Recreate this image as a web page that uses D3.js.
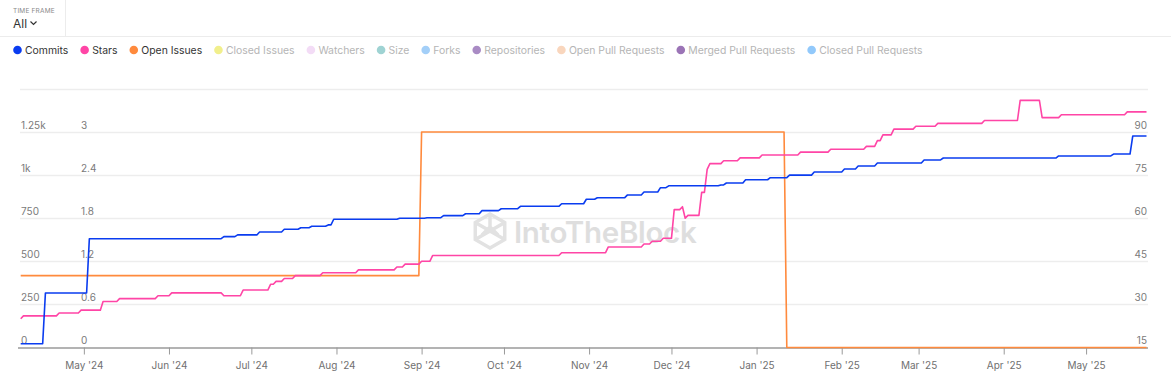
<!DOCTYPE html>
<html>
<head>
<meta charset="utf-8">
<script src="https://cdn.jsdelivr.net/npm/d3@7"></script>
<style>
  body { margin: 0; background: #fff; font-family: Inter, "Noto Sans", sans-serif; }
</style>
</head>
<body>
<div id="chart"></div>
<script>
// --- data ---
const commitDates = ["2024-04-08","2024-04-17","2024-05-03","2024-06-21","2024-06-26","2024-07-04","2024-07-13","2024-07-19","2024-07-23","2024-07-29","2024-07-31","2024-08-24","2024-09-03","2024-09-09","2024-09-17","2024-09-23","2024-09-30","2024-10-07","2024-10-22","2024-10-31","2024-11-04","2024-11-15","2024-11-21","2024-11-27","2024-11-30","2024-12-19","2024-12-21","2024-12-28","2025-01-06","2025-01-13","2025-01-22","2025-02-02","2025-02-07","2025-02-14","2025-03-03","2025-03-10","2025-04-21","2025-05-11","2025-05-18"];
const commitValues = [22,316,631,643,653,670,686,695,703,711,744,750,753,765,776,794,805,819,834,860,869,885,902,927,938,943,954,973,985,1000,1018,1035,1053,1070,1088,1099,1111,1122,1227];

const starDates = ["2024-04-08","2024-04-09","2024-04-22","2024-04-30","2024-05-08","2024-05-14","2024-05-28","2024-06-02","2024-06-21","2024-06-28","2024-07-08","2024-07-10","2024-07-13","2024-07-17","2024-07-27","2024-08-09","2024-08-23","2024-08-26","2024-09-01","2024-09-05","2024-10-22","2024-11-08","2024-11-21","2024-11-24","2024-11-28","2024-12-02","2024-12-05","2024-12-06","2024-12-07","2024-12-12","2024-12-14","2024-12-15","2024-12-20","2024-12-26","2025-01-03","2025-01-17","2025-01-28","2025-02-10","2025-02-14","2025-02-16","2025-02-20","2025-02-28","2025-03-08","2025-03-25","2025-04-07","2025-04-15","2025-04-22","2025-05-16"];
const starValues = [25,26,27,28,31,32,33,34,33,35,37,38,39,40,41,42,43,44,45,47,48,50,51,52,53,63,64,60,61,69,77,79,80,81,82,83,84,85,87,89,91,92,93,94,101,95,96,97];

const issueDates = ["2024-04-08","2024-09-01","2025-01-12"];
const issueValues = [1,3,0];

const startDate = "2024-04-08";
const endDate = "2025-05-23";

const commitTicks = [0,250,500,750,1000,1250,1500];
const issueTicks = [0,0.6,1.2,1.8,2.4,3,3.6];
const starTicks = [15,30,45,60,75,90,105];

const legendNames = ["Commits","Stars","Open Issues","Closed Issues","Watchers","Size","Forks","Repositories","Open Pull Requests","Merged Pull Requests","Closed Pull Requests"];
const legendColors = ["#0a3cf0","#ff45a6","#ff8a3d","#f1ef8c","#f3dcf6","#9fd3d3","#a3cff8","#a98bc4","#f9d6bd","#9b74b6","#92c9fb"];
const legendActive = [true,true,true,false,false,false,false,false,false,false,false];

// --- drawing ---
const W = 1171, H = 389;
const parse = d3.timeParse("%Y-%m-%d");

const svg = d3.select("#chart").append("svg")
  .attr("width", W)
  .attr("height", H)
  .style("display", "block");

// header
svg.append("text").attr("x", 13).attr("y", 13)
  .style("font-size", "6.5px").style("fill", "#8a8a8a").style("letter-spacing", "0.2px")
  .text("TIME FRAME");
svg.append("text").attr("x", 13).attr("y", 28)
  .style("font-size", "12px").style("fill", "#333")
  .text("All");
svg.append("path").attr("d", "M30.5,21.5 L33.5,24.5 L36.5,21.5")
  .style("fill", "none").style("stroke", "#333").style("stroke-width", 1.2);
svg.append("line").attr("x1", 65.5).attr("x2", 65.5).attr("y1", 0).attr("y2", 36)
  .style("stroke", "#ececec");
svg.append("line").attr("x1", 0).attr("x2", W).attr("y1", 36.5).attr("y2", 36.5)
  .style("stroke", "#ececec");

// legend
let lx = 13;
legendNames.forEach((name, i) => {
  const g = svg.append("g");
  g.append("circle").attr("cx", lx + 4.5).attr("cy", 50).attr("r", 4.3)
    .style("fill", legendColors[i]);
  const t = g.append("text").attr("x", lx + 12).attr("y", 54)
    .style("font-size", "10.4px")
    .style("fill", legendActive[i] ? "#333" : "#b5b5b5")
    .text(name);
  lx += 12 + t.node().getComputedTextLength() + 11.8;
});

// scales
const x = d3.scaleTime()
  .domain([parse(startDate), parse(endDate)])
  .range([20.7, 1146.5]);
const yCommits = d3.scaleLinear().domain([0, 1500]).range([347.5, 88.9]);
const yIssues = d3.scaleLinear().domain([0, 3.6]).range([347.5, 88.9]);
const yStars = d3.scaleLinear().domain([15, 105]).range([347.5, 88.9]);

// grid
svg.append("g").selectAll("line")
  .data(commitTicks.slice(1))
  .enter().append("line")
  .attr("x1", 20).attr("x2", 1148)
  .attr("y1", d => Math.round(yCommits(d)) + 0.5)
  .attr("y2", d => Math.round(yCommits(d)) + 0.5)
  .style("stroke", "#ededed").style("stroke-width", 1.3);

// watermark
const wm = svg.append("g").attr("transform", "translate(490,231)");
const hex = d3.range(6).map(k => {
  const a = Math.PI / 3 * k - Math.PI / 2;
  return [17 * Math.cos(a), 17 * Math.sin(a)];
});
wm.append("path").attr("d", "M" + hex.join("L") + "Z")
  .style("fill", "none").style("stroke", "#e2e2e2").style("stroke-width", 3.5);
wm.append("path")
  .attr("d", "M" + hex[5] + "L" + hex[2] + "M" + hex[1] + "L" + hex[4] + "M0,-17L0,-4M-8,4L0,-4L8,4")
  .style("fill", "none").style("stroke", "#e2e2e2").style("stroke-width", 3.5);
svg.append("text").attr("x", 514).attr("y", 243)
  .style("font-size", "29.5px").style("font-weight", 600).style("fill", "#dedede")
  .style("letter-spacing", "-0.3px")
  .text("IntoTheBlock");

// y labels
const tickText = { "font-size": "10px", "fill": "#7a7a7a" };
function labels(ticks, scale, xPos, anchor, fmt) {
  const sel = svg.append("g").selectAll("text")
    .data(ticks.slice(0, 6))
    .enter().append("text")
    .attr("x", xPos)
    .attr("y", d => scale(d) - 3.5)
    .attr("text-anchor", anchor)
    .text(fmt);
  Object.entries(tickText).forEach(([k, v]) => sel.style(k, v));
}
labels(commitTicks, yCommits, 21, "start", d => d >= 1000 ? (d / 1000) + "k" : d);
labels(issueTicks, yIssues, 81, "start", d => d);
labels(starTicks, yStars, 1147, "end", d => d);

// x axis
const xAxis = svg.append("g")
  .attr("transform", "translate(0,347.5)")
  .call(d3.axisBottom(x)
    .ticks(d3.timeMonth.every(1))
    .tickSize(7)
    .tickPadding(7)
    .tickFormat(d3.timeFormat("%b '%y")));
xAxis.select(".domain").attr("d", "M18,0.5H1148").style("stroke", "#9a9a9a").style("stroke-width", 1.3);
xAxis.selectAll(".tick line").style("stroke", "#9a9a9a");
xAxis.selectAll(".tick text")
  .style("font-family", "Inter, sans-serif")
  .style("font-size", "10px")
  .style("fill", "#707070");

// step series: each change is reached over one day
function stepPoints(dates, values) {
  const pts = [];
  dates.forEach((d, i) => {
    const t = parse(d);
    if (i > 0) pts.push([d3.timeDay.offset(t, -1), values[i - 1]]);
    pts.push([t, values[i]]);
  });
  pts.push([parse(endDate), values[values.length - 1]]);
  return pts;
}

function drawSeries(dates, values, scale, color) {
  const line = d3.line()
    .x(d => x(d[0]))
    .y(d => scale(d[1]));
  svg.append("path")
    .datum(stepPoints(dates, values))
    .attr("d", line)
    .style("fill", "none")
    .style("stroke", color)
    .style("stroke-width", 1.6)
    .style("stroke-linejoin", "round");
}

drawSeries(issueDates, issueValues, yIssues, legendColors[2]);
drawSeries(starDates, starValues, yStars, legendColors[1]);
drawSeries(commitDates, commitValues, yCommits, legendColors[0]);
</script>
</body>
</html>
